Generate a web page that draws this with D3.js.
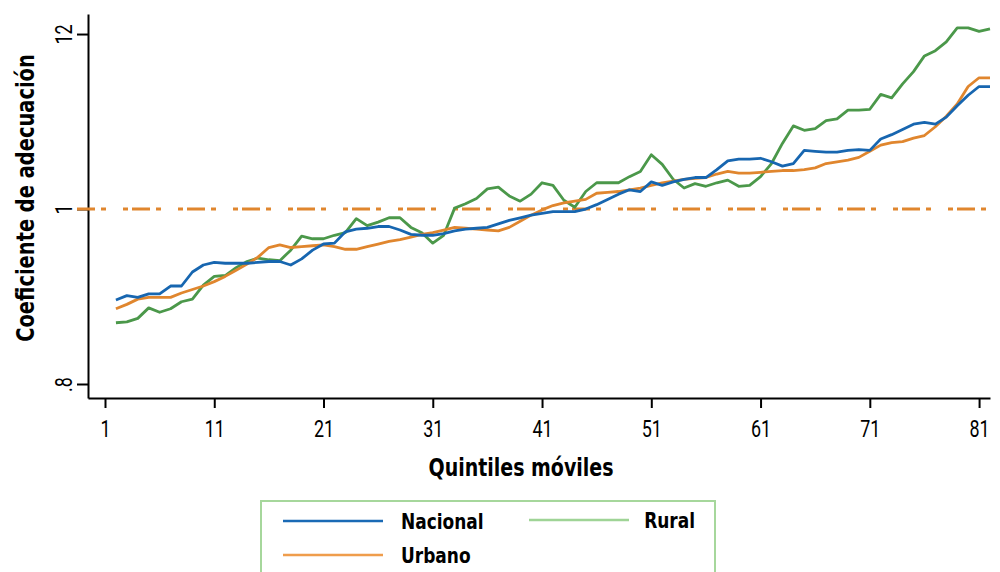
<!DOCTYPE html>
<html>
<head>
<meta charset="utf-8">
<script src="https://cdn.jsdelivr.net/npm/d3@7"></script>
<style>
    body { margin: 0; background: #fff; }
    svg { display: block; }
    .title { font-family: "DejaVu Sans Condensed", "DejaVu Sans", sans-serif; font-weight: bold; }
    .tick-label { font-family: Roboto, "DejaVu Sans", sans-serif; font-weight: 400; }
</style>
</head>
<body>
<div id="chart"></div>
<script>
// quintile windows (x) and series values
var quintiles = d3.range(2, 83);
var xTicks = [1, 11, 21, 31, 41, 51, 61, 71, 81];
var yTicks = [0.8, 1, 1.2];
var yTickLabels = ['.8', '1', '12'];

var nacional = [0.896,0.901,0.899,0.903,0.903,0.912,0.912,0.928,0.936,0.939,
    0.938,0.938,0.938,0.939,0.940,0.940,0.936,0.943,0.953,0.960,
    0.961,0.974,0.977,0.978,0.980,0.980,0.976,0.971,0.970,0.970,
    0.972,0.975,0.977,0.978,0.979,0.983,0.987,0.990,0.993,0.995,
    0.997,0.997,0.997,1.000,1.005,1.011,1.017,1.022,1.020,1.031,
    1.027,1.031,1.034,1.036,1.036,1.045,1.055,1.057,1.057,1.058,
    1.054,1.049,1.052,1.067,1.066,1.065,1.065,1.067,1.068,1.067,
    1.080,1.085,1.091,1.097,1.099,1.097,1.105,1.118,1.130,1.140,1.140];

var urbano = [0.886,0.891,0.897,0.899,0.899,0.899,0.904,0.908,0.912,0.917,
    0.923,0.930,0.937,0.945,0.956,0.959,0.956,0.957,0.958,0.959,
    0.957,0.954,0.954,0.957,0.960,0.963,0.965,0.968,0.971,0.973,
    0.976,0.979,0.978,0.977,0.976,0.975,0.979,0.986,0.993,0.999,
    1.004,1.007,1.009,1.011,1.018,1.019,1.020,1.022,1.024,1.027,
    1.030,1.032,1.034,1.035,1.036,1.040,1.043,1.041,1.041,1.042,
    1.043,1.044,1.044,1.045,1.047,1.052,1.054,1.056,1.059,1.066,
    1.073,1.076,1.077,1.081,1.084,1.094,1.106,1.120,1.140,1.150,1.150];

var rural = [0.870,0.871,0.875,0.887,0.882,0.886,0.894,0.897,0.913,0.923,
    0.924,0.933,0.940,0.944,0.942,0.941,0.953,0.969,0.966,0.966,
    0.970,0.973,0.989,0.981,0.985,0.990,0.990,0.979,0.973,0.961,
    0.970,1.001,1.006,1.012,1.023,1.025,1.015,1.009,1.017,1.030,
    1.027,1.010,1.002,1.020,1.030,1.030,1.030,1.037,1.043,1.062,
    1.051,1.034,1.024,1.029,1.026,1.030,1.033,1.026,1.027,1.037,
    1.052,1.075,1.095,1.090,1.092,1.101,1.103,1.113,1.113,1.114,
    1.131,1.127,1.143,1.157,1.175,1.181,1.191,1.207,1.207,1.203,1.206];

var refValue = 1;

var series = [
    {key: 'Nacional', values: nacional, color: '#1766b0', legendColor: '#1a6ab5'},
    {key: 'Urbano', values: urbano, color: '#e0862e', legendColor: '#ef9d4c'},
    {key: 'Rural', values: rural, color: '#4b984a', legendColor: '#9fd496'}
];

var width = 1000,
    height = 572;

var xScale = d3.scaleLinear().domain([-0.556, 82]).range([88, 990]),
    yScale = d3.scaleLinear().domain([0.784, 1.2229]).range([398, 14]);

var svg = d3.select('#chart')
    .append('svg')
    .attr('width', width)
    .attr('height', height);

// axes
var xAxis = svg.append('g')
    .attr('class', 'axis axis--x')
    .attr('transform', 'translate(0,' + yScale.range()[0] + ')')
    .call(d3.axisBottom(xScale).tickValues(xTicks).tickSize(10).tickSizeOuter(0).tickFormat(d3.format('d')));

var yAxis = svg.append('g')
    .attr('class', 'axis axis--y')
    .attr('transform', 'translate(' + xScale.range()[0] + ',0)')
    .call(d3.axisLeft(yScale).tickValues(yTicks).tickSize(11).tickSizeOuter(0).tickFormat(function(d, i) { return yTickLabels[i]; }));

svg.selectAll('.axis path, .axis line')
    .attr('stroke', '#000')
    .attr('stroke-width', 2);

xAxis.selectAll('text')
    .attr('class', 'tick-label')
    .attr('y', null)
    .attr('dy', null)
    .attr('transform', 'translate(0,39) scale(0.78,1)')
    .style('font-size', '23px')
    .attr('fill', '#000');

yAxis.selectAll('text')
    .attr('class', 'tick-label')
    .attr('x', null)
    .attr('dy', null)
    .attr('text-anchor', 'middle')
    .attr('transform', 'translate(-16,0) rotate(-90) scale(0.78,1)')
    .style('font-size', '23px')
    .attr('fill', '#000');

// reference line at 1
svg.append('line')
    .attr('x1', 77)
    .attr('x2', 988)
    .attr('y1', yScale(refValue))
    .attr('y2', yScale(refValue))
    .attr('stroke', '#e0862e')
    .attr('stroke-width', 3)
    .attr('stroke-dasharray', '18,6,5,17,5,4');

var line = d3.line()
    .x(function(d) { return xScale(d.x); })
    .y(function(d) { return yScale(d.y); });

// draw rural first, then urban and national on top
[series[2], series[1], series[0]].forEach(function(s) {
    var pts = quintiles.map(function(q, i) { return {x: q, y: s.values[i]}; });
    svg.append('path')
        .attr('class', 'line')
        .attr('d', line(pts))
        .attr('fill', 'none')
        .attr('stroke', s.color)
        .attr('stroke-width', 2.8)
        .attr('stroke-linejoin', 'round');
});

// titles
svg.append('text')
    .attr('class', 'title')
    .attr('transform', 'translate(521,476) scale(0.88,1)')
    .attr('text-anchor', 'middle')
    .style('font-size', '24px')
    .text('Quintiles móviles');

svg.append('text')
    .attr('class', 'title')
    .attr('transform', 'translate(34,198) rotate(-90) scale(0.9,1)')
    .attr('text-anchor', 'middle')
    .style('font-size', '24px')
    .text('Coeficiente de adecuación');

// legend
var leg = svg.append('g').attr('class', 'legend');

leg.append('rect')
    .attr('x', 261)
    .attr('y', 501)
    .attr('width', 454)
    .attr('height', 90)
    .attr('fill', '#fff')
    .attr('stroke', '#a6d79c')
    .attr('stroke-width', 2);

var legPos = [
    {lx: 283, tx: 401, y: 521, anchor: 'start'},
    {lx: 283, tx: 401, y: 555, anchor: 'start'},
    {lx: 529, tx: 695, y: 520, anchor: 'end'}
];

var legg = leg.selectAll('g')
    .data(series)
    .enter().append('g');

legg.append('line')
    .attr('x1', function(d, i) { return legPos[i].lx; })
    .attr('x2', function(d, i) { return legPos[i].lx + 100; })
    .attr('y1', function(d, i) { return legPos[i].y; })
    .attr('y2', function(d, i) { return legPos[i].y; })
    .attr('stroke', function(d) { return d.legendColor; })
    .attr('stroke-width', 2.4);

legg.append('text')
    .attr('class', 'title')
    .attr('transform', function(d, i) { return 'translate(' + legPos[i].tx + ',' + (legPos[i].y + 8) + ') scale(0.9,1)'; })
    .attr('text-anchor', function(d, i) { return legPos[i].anchor; })
    .style('font-size', '21px')
    .text(function(d) { return d.key; });
</script>
</body>
</html>
